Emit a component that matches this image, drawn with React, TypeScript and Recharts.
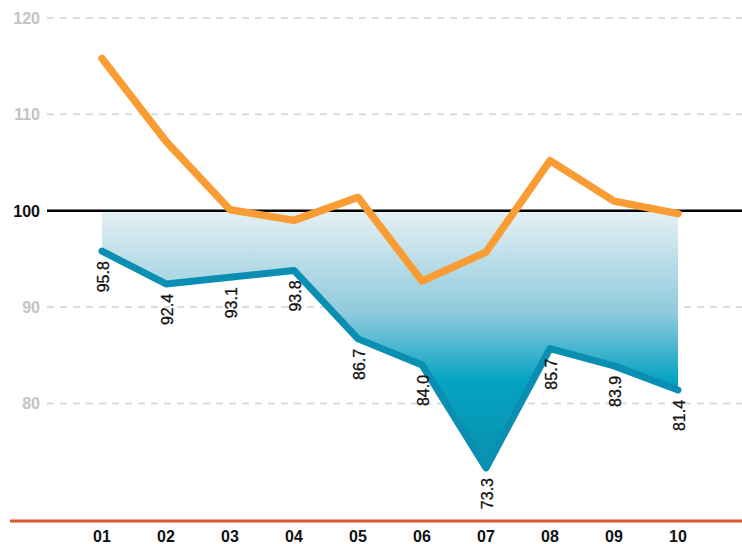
import * as React from "react";
import {
  ComposedChart,
  Area,
  Line,
  XAxis,
  YAxis,
  CartesianGrid,
  ReferenceLine,
} from "recharts";

// ---------------------------------------------------------------------------
// Data
// ---------------------------------------------------------------------------
const categories = ["01", "02", "03", "04", "05", "06", "07", "08", "09", "10"];
const orangeValues = [115.8, 107.2, 100.1, 99.0, 101.4, 92.7, 95.7, 105.2, 101.0, 99.7];
const blueValues = [95.8, 92.4, 93.1, 93.8, 86.7, 84.0, 73.3, 85.7, 83.9, 81.4];
const yTicks = [80, 90, 100, 110, 120];
const gridValues = [80, 90, 110, 120];
const baseline = 100;

const data = categories.map((cat, i) => ({
  x: i + 1,
  cat,
  orange: orangeValues[i],
  blue: blueValues[i],
}));

// layout
const WIDTH = 742;
const HEIGHT = 544;
const GRID_LEFT = 47;
const FONT = "'Liberation Sans', Arial, sans-serif";

const ORANGE = "#f99c33";
const BLUE = "#0a8fb2";
const AXIS_RED = "#e0572a";

// ---------------------------------------------------------------------------
// Custom pieces
// ---------------------------------------------------------------------------
function YTick(props: any) {
  const { y, payload } = props;
  const isBase = payload.value === baseline;
  return (
    <text
      x={40}
      y={y}
      dy={6}
      textAnchor="end"
      fontFamily={FONT}
      fontSize={16}
      fontWeight="bold"
      fill={isBase ? "#111" : "#c4c4c4"}
    >
      {payload.value}
    </text>
  );
}

function XTick(props: any) {
  const { x, y, payload } = props;
  return (
    <text
      x={x}
      y={y + 21}
      textAnchor="middle"
      fontFamily={FONT}
      fontSize={16}
      fontWeight="bold"
      fill="#111"
    >
      {categories[payload.value - 1]}
    </text>
  );
}

function ValueLabel(props: any) {
  const { x, y, value } = props;
  const px = x + 7;
  const py = y + 10;
  return (
    <text
      x={px}
      y={py}
      textAnchor="end"
      fontFamily={FONT}
      fontSize={16}
      fill="#111"
      stroke="#111"
      strokeWidth={0.3}
      transform={`rotate(-90, ${px}, ${py})`}
    >
      {Number(value).toFixed(1)}
    </text>
  );
}

const gridLine = (props: any) => (
  <line
    key={props.key ?? `g-${props.y1}`}
    x1={GRID_LEFT}
    x2={props.x2}
    y1={props.y1}
    y2={props.y2}
    stroke="#dcdcdc"
    strokeWidth={2}
    strokeDasharray="7 6"
  />
);

const baseShape = (props: any) => (
  <line x1={GRID_LEFT} x2={props.x2} y1={props.y1} y2={props.y2} stroke="#000" strokeWidth={2.5} />
);

// ---------------------------------------------------------------------------
// Main component
// ---------------------------------------------------------------------------
export default function App() {
  return (
    <div style={{ position: "absolute", left: 0, top: 0, width: WIDTH, height: HEIGHT, background: "#fff" }}>
      <ComposedChart
        width={WIDTH}
        height={HEIGHT}
        data={data}
        margin={{ top: 18, right: 0, left: 0, bottom: 0 }}
      >
        <defs>
          <linearGradient id="blueFill" x1="0" y1="0" x2="0" y2="1">
            <stop offset="0%" stopColor="#e4f0f4" />
            <stop offset="40%" stopColor="#8fcadc" />
            <stop offset="66%" stopColor="#04a3c3" />
            <stop offset="100%" stopColor="#0a90ae" />
          </linearGradient>
        </defs>
        <CartesianGrid vertical={false} horizontal={gridLine} horizontalValues={gridValues} />
        <XAxis
          type="number"
          dataKey="x"
          domain={[-0.4375, 11]}
          ticks={data.map((d) => d.x)}
          allowDataOverflow
          height={23}
          tickSize={0}
          tickMargin={0}
          tickLine={false}
          axisLine={{ stroke: AXIS_RED, strokeWidth: 3 }}
          tick={<XTick />}
          interval={0}
        />
        <YAxis
          type="number"
          domain={[67.8, 120]}
          ticks={yTicks}
          allowDataOverflow
          width={10}
          axisLine={false}
          tickLine={false}
          tick={<YTick />}
          interval={0}
        />
        <Area
          type="linear"
          dataKey="blue"
          baseValue={baseline}
          stroke="none"
          fill="url(#blueFill)"
          fillOpacity={1}
          isAnimationActive={false}
        />
        <ReferenceLine y={baseline} shape={baseShape} />
        <Line
          type="linear"
          dataKey="blue"
          stroke={BLUE}
          strokeWidth={7}
          strokeLinecap="round"
          strokeLinejoin="round"
          dot={false}
          label={<ValueLabel />}
          isAnimationActive={false}
        />
        <Line
          type="linear"
          dataKey="orange"
          stroke={ORANGE}
          strokeWidth={7.5}
          strokeLinecap="round"
          strokeLinejoin="round"
          dot={false}
          isAnimationActive={false}
        />
      </ComposedChart>
    </div>
  );
}
